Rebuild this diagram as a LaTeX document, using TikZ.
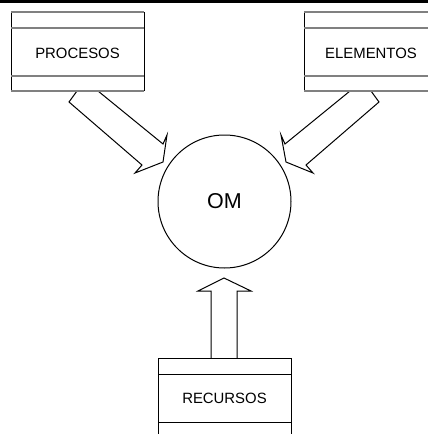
\documentclass[tikz,border=0pt]{standalone}
\usepackage{fontspec}
\setmainfont{Liberation Sans}
\begin{document}
\begin{tikzpicture}[x=1pt,y=-1pt,
  hline/.style={draw=black!50, line width=1.4pt},
  vline/.style={draw=black, line width=1pt},
  lbl/.style={font=\fontsize{14.9}{16}\selectfont, inner sep=0pt},
  blockarrow/.style={draw=black, line width=1pt, fill=white, line join=miter}]
\useasboundingbox (0,0) rectangle (428,434);
\clip (0,0) rectangle (428,434);
\fill[black] (0,0) rectangle (428,3);
% circle
\node[circle, draw=black, line width=1pt, minimum size=133pt, inner sep=0pt,
      font=\fontsize{21.5}{24}\selectfont] (om) at (224.5,201.5) {OM};
% block arrows
\coordinate (pa) at (77,91);
\coordinate (pb) at (98,91);
\draw[blockarrow] (pa) -- (69,102) -- (142,165) -- (135,173) -- (163,162) -- (167,135) -- (163,144) -- (pb);
\coordinate (ea) at (371,91);
\coordinate (eb) at (350,91);
\draw[blockarrow] (ea) -- (379,102) -- (306,165) -- (313,173) -- (286,162) -- (281,135) -- (285,144) -- (eb);
\coordinate (ra) at (211,358);
\coordinate (rb) at (237,358);
\draw[blockarrow] (ra) -- (211,291) -- (198,291) -- (224,278) -- (251,291) -- (237,291) -- (rb);
% PROCESOS box
\fill[white] (11,12) rectangle (144,91);
\draw[vline] (11,12) -- (11,91);
\draw[vline] (144,12) -- (144,91);
\foreach \y in {12,28,76,91} \draw[hline] (11,\y) -- (144,\y);
\node[lbl] (proc) at (77.5,53) {PROCESOS};
% ELEMENTOS box
\fill[white] (304,12) rectangle (440,91);
\draw[vline] (304,12) -- (304,91);
\foreach \y in {12,28,76,91} \draw[hline] (304,\y) -- (440,\y);
\node[lbl] (elem) at (371,53) {ELEMENTOS};
% RECURSOS box
\fill[white] (158,358) rectangle (291,440);
\draw[vline] (158,358) -- (158,440);
\draw[vline] (291,358) -- (291,440);
\draw[vline] (158,358) -- (291,358);
\draw[vline] (158,374) -- (291,374);
\draw[vline] (158,422) -- (291,422);
\node[lbl] (recu) at (224.5,398) {RECURSOS};
\end{tikzpicture}
\end{document}
